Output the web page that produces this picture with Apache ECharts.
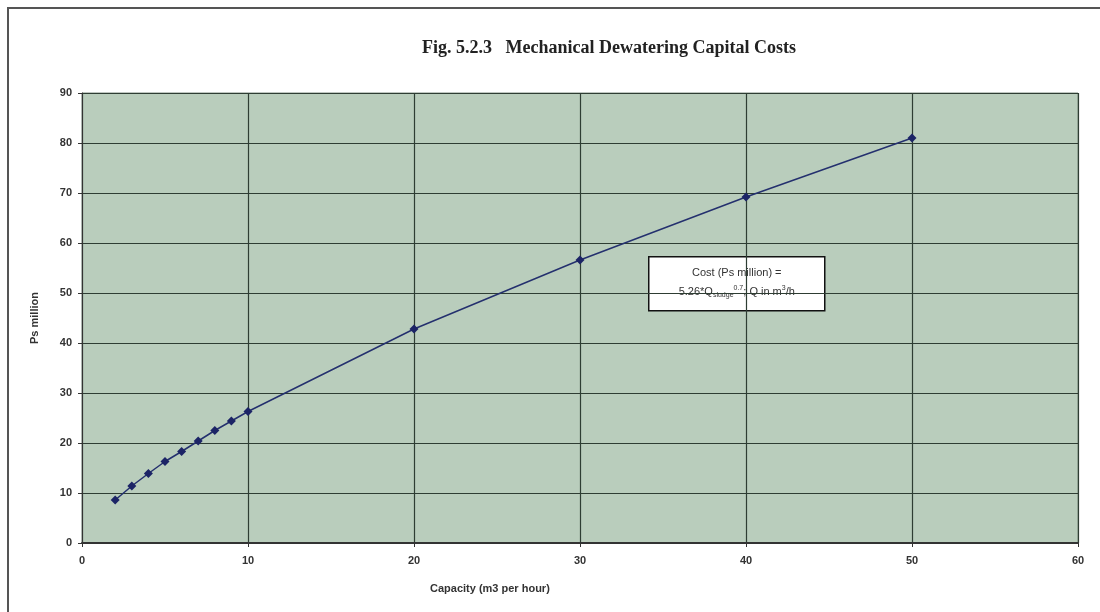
<!DOCTYPE html>
<html>
<head>
<meta charset="utf-8">
<script src="https://cdn.jsdelivr.net/npm/echarts@6/dist/echarts.min.js"></script>
<style>
  html, body { margin: 0; padding: 0; background: #fff; }
  #main { width: 1100px; height: 612px; }
</style>
</head>
<body>
<div id="main"></div>
<script>
// capacity (m3/h) and cost (Ps million)
var capacity = [2, 3, 4, 5, 6, 7, 8, 9, 10, 20, 30, 40, 50];
var cost = [8.6, 11.4, 13.9, 16.3, 18.3, 20.4, 22.5, 24.4, 26.3, 42.8, 56.6, 69.2, 81.0];
var xTicks = [0, 10, 20, 30, 40, 50, 60];
var yTicks = [0, 10, 20, 30, 40, 50, 60, 70, 80, 90];

var points = capacity.map(function (c, i) { return [c, cost[i]]; });

var chart = echarts.init(document.getElementById("main"));

var sans = "Liberation Sans, Arial, sans-serif";
var labelFont = {
  color: "#333",
  fontFamily: sans,
  fontSize: 11,
  fontWeight: "bold"
};

chart.setOption({
  backgroundColor: "#fff",
  animation: false,
  title: {
    text: "Fig. 5.2.3   Mechanical Dewatering Capital Costs",
    left: 604,
    textAlign: "center",
    top: 34,
    textStyle: {
      fontFamily: "Liberation Serif, Times New Roman, serif",
      fontSize: 18,
      fontWeight: "bold",
      color: "#222"
    }
  },
  grid: {
    left: 82,
    right: 22,
    top: 93,
    bottom: 69,
    show: true,
    backgroundColor: "#b9cdbc",
    borderColor: "#7f8f82",
    borderWidth: 1
  },
  xAxis: {
    type: "value",
    min: xTicks[0],
    max: xTicks[xTicks.length - 1],
    interval: 10,
    axisLine: { show: true, lineStyle: { color: "#333", width: 2 } },
    axisTick: { show: true, length: 4, lineStyle: { color: "#333" } },
    axisLabel: Object.assign({ margin: 12 }, labelFont),
    splitLine: { show: true, lineStyle: { color: "#2e3d33", width: 1.2 } }
  },
  yAxis: {
    type: "value",
    min: yTicks[0],
    max: yTicks[yTicks.length - 1],
    interval: 10,
    name: "Ps million",
    nameLocation: "middle",
    nameGap: 42,
    nameTextStyle: labelFont,
    axisLine: { show: true, lineStyle: { color: "#333", width: 1 } },
    axisTick: { show: true, length: 4, lineStyle: { color: "#333" } },
    axisLabel: Object.assign({ margin: 10 }, labelFont),
    splitLine: { show: true, lineStyle: { color: "#2e3d33", width: 1.2 } }
  },
  series: [
    {
      type: "line",
      data: points,
      symbol: "diamond",
      symbolSize: 9,
      itemStyle: { color: "#1c2466" },
      lineStyle: { color: "#24306e", width: 1.5 },
      z: 5
    }
  ],
  graphic: [
    {
      // outer chart frame
      type: "rect",
      shape: { x: 8, y: 8, width: 1100, height: 700 },
      style: { fill: "none", stroke: "#555", lineWidth: 2 },
      silent: true
    },
    {
      type: "text",
      left: 430,
      top: 583,
      style: {
        text: "Capacity (m3 per hour)",
        fill: "#333",
        fontFamily: sans,
        fontSize: 11,
        fontWeight: "bold"
      }
    },
    {
      type: "group",
      left: 648,
      top: 256,
      children: [
        {
          type: "rect",
          shape: { x: 0, y: 0, width: 176, height: 54 },
          style: { fill: "#fff", stroke: "#111", lineWidth: 1.5 }
        },
        {
          type: "text",
          x: 88,
          y: 11,
          style: {
            text: "Cost (Ps million) =",
            align: "center",
            fill: "#333",
            fontFamily: sans,
            fontSize: 11
          }
        },
        {
          type: "text",
          x: 88,
          y: 27,
          style: {
            text: "{n|5.26*Q}{sub|sludge}{sup|0.7}{n|; Q in m}{sup|3}{n|/h}",
            align: "center",
            fill: "#333",
            fontFamily: sans,
            fontSize: 11,
            rich: {
              n: { fontFamily: sans, fontSize: 11, fill: "#333", lineHeight: 16 },
              sub: { fontFamily: sans, fontSize: 7, fill: "#333", padding: [7, 0, 0, 0], lineHeight: 16 },
              sup: { fontFamily: sans, fontSize: 7, fill: "#333", padding: [0, 0, 7, 0], lineHeight: 16 }
            }
          }
        }
      ]
    }
  ]
});
</script>
</body>
</html>
